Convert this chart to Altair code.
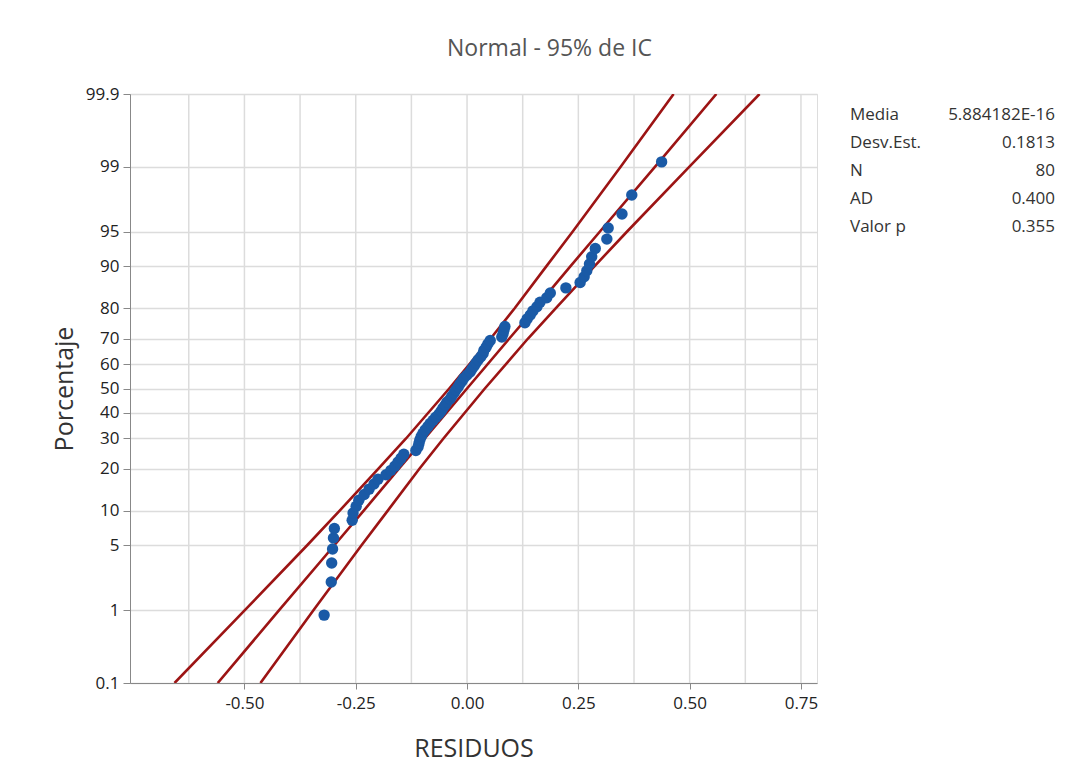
import altair as alt
import pandas as pd
from statistics import NormalDist

# Residuals (sorted)
residuos = [
    -0.321, -0.305, -0.304, -0.302, -0.300, -0.298,
    -0.258, -0.256, -0.249, -0.243, -0.231, -0.220, -0.209, -0.200,
    -0.182, -0.171, -0.162, -0.155, -0.148, -0.142,
    -0.115, -0.110, -0.108, -0.106, -0.103, -0.099, -0.094, -0.088, -0.083, -0.076,
    -0.070, -0.063, -0.058, -0.054, -0.049, -0.045, -0.038, -0.034, -0.029, -0.025,
    -0.020, -0.016, -0.011, -0.007,
    0.000, 0.007, 0.011, 0.016, 0.020, 0.025, 0.031, 0.036, 0.038, 0.043, 0.047, 0.052,
    0.078, 0.081, 0.083, 0.085,
    0.130, 0.135, 0.142, 0.148, 0.157, 0.164, 0.179, 0.187,
    0.222, 0.254, 0.263, 0.269, 0.275, 0.280, 0.288, 0.314,
    0.317, 0.348, 0.370, 0.437,
]

# Fitted line and 95% CI bands, read at these percentages
pct_linea = [0.1, 1, 5, 10, 20, 30, 50, 70, 80, 90, 95, 99, 99.9]
ajuste = [-0.560, -0.422, -0.298, -0.232, -0.153, -0.095, 0.000, 0.095, 0.153, 0.232, 0.298, 0.422, 0.560]
ic_inf = [-0.657, -0.499, -0.359, -0.286, -0.199, -0.137, -0.040, 0.053, 0.107, 0.178, 0.237, 0.345, 0.464]
ic_sup = [-0.464, -0.345, -0.237, -0.178, -0.107, -0.053, 0.040, 0.137, 0.199, 0.286, 0.359, 0.499, 0.657]

y_ticks_pct = [0.1, 1, 5, 10, 20, 30, 40, 50, 60, 70, 80, 90, 95, 99, 99.9]
x_ticks = [-0.50, -0.25, 0.00, 0.25, 0.50, 0.75]
x_grid = [-0.625, -0.50, -0.375, -0.25, -0.125, 0.0, 0.125, 0.25, 0.375, 0.50, 0.625, 0.75]

stat_names = ["Media", "Desv.Est.", "N", "AD", "Valor p"]
stat_values = ["5.884182E-16", "0.1813", "80", "0.400", "0.355"]

FONT = "Open Sans"
nd = NormalDist()
y_tick_z = [nd.inv_cdf(p / 100) for p in y_ticks_pct]

x_scale = alt.Scale(domain=[-0.757, 0.786], nice=False, zero=False)
y_scale = alt.Scale(domain=[y_tick_z[0], y_tick_z[-1]], nice=False, zero=False)

df_pts = pd.DataFrame({"r": residuos})
rows = []
for name, vals in [("inf", ic_inf), ("ajuste", ajuste), ("sup", ic_sup)]:
    for p, v in zip(pct_linea, vals):
        rows.append({"serie": name, "pct": p, "x": v})
df_lines = pd.DataFrame(rows)
df_grid = pd.DataFrame({"g": x_grid})

grid = alt.Chart(df_grid).mark_rule(color="#dcdcdc", strokeWidth=1.5).encode(
    x=alt.X("g:Q", scale=x_scale)
)

lines = (
    alt.Chart(df_lines)
    .transform_calculate(z="quantileNormal(datum.pct / 100)")
    .mark_line(color="#9c1414", strokeWidth=2.6, clip=True)
    .encode(
        x=alt.X("x:Q", scale=x_scale),
        y=alt.Y("z:Q", scale=y_scale),
        detail="serie:N",
        order="pct:Q",
    )
)

points = (
    alt.Chart(df_pts)
    .transform_window(i="row_number()", sort=[alt.SortField("r")])
    .transform_joinaggregate(n="count()")
    .transform_calculate(z="quantileNormal((datum.i - 0.3) / (datum.n + 0.4))")
    .mark_point(filled=True, size=130, color="#1a5aa6", opacity=1)
    .encode(
        x=alt.X(
            "r:Q",
            scale=x_scale,
            axis=alt.Axis(
                values=x_ticks,
                labelExpr="replace(format(datum.value, '.2f'), '\u2212', '-')",
                grid=False,
                title="RESIDUOS",
                titleFontSize=25,
                titleFontWeight="normal",
                titleColor="#333333",
                titlePadding=25,
                labelFontSize=17,
                labelColor="#222222",
                labelPadding=6,
                tickSize=6,
                tickColor="#888888",
                domainColor="#888888",
                labelFont=FONT,
                titleFont=FONT,
            ),
        ),
        y=alt.Y(
            "z:Q",
            scale=y_scale,
            axis=alt.Axis(
                values=y_tick_z,
                labelExpr="format(cumulativeNormal(datum.value) * 100, '.3~g')",
                grid=True,
                gridColor="#dcdcdc",
                gridWidth=1.5,
                title="Porcentaje",
                titleFontSize=25,
                titleFontWeight="normal",
                titleColor="#333333",
                titlePadding=8,
                labelFontSize=17,
                labelColor="#222222",
                labelPadding=4,
                tickSize=7,
                tickColor="#888888",
                domainColor="#888888",
                labelFont=FONT,
                titleFont=FONT,
            ),
        ),
    )
)

stats_lbl = alt.Chart(pd.DataFrame({"t": ["\n".join(stat_names)]})).mark_text(
    align="left", baseline="top", lineBreak="\n", lineHeight=28,
    fontSize=17, font=FONT, color="#333333"
).encode(x=alt.value(720), y=alt.value(13), text="t:N")

stats_val = alt.Chart(pd.DataFrame({"t": ["\n".join(stat_values)]})).mark_text(
    align="right", baseline="top", lineBreak="\n", lineHeight=28,
    fontSize=17, font=FONT, color="#333333"
).encode(x=alt.value(925), y=alt.value(13), text="t:N")

chart = (
    alt.layer(grid, lines, points, stats_lbl, stats_val)
    .properties(
        width=687,
        height=589,
        autosize=alt.AutoSizeParams(type="none"),
        padding={"left": 122, "top": 86, "right": 255, "bottom": 90},
        title=alt.TitleParams(
            text="Normal - 95% de IC",
            fontSize=23,
            fontWeight="normal",
            color="#555555",
            font=FONT,
            dx=76,
            offset=24,
        ),
    )
    .configure_view(stroke="#888888", strokeWidth=1.5)
    .configure(background="white")
)

chart.save("out.html", embed_options={"renderer": "svg", "actions": False})
